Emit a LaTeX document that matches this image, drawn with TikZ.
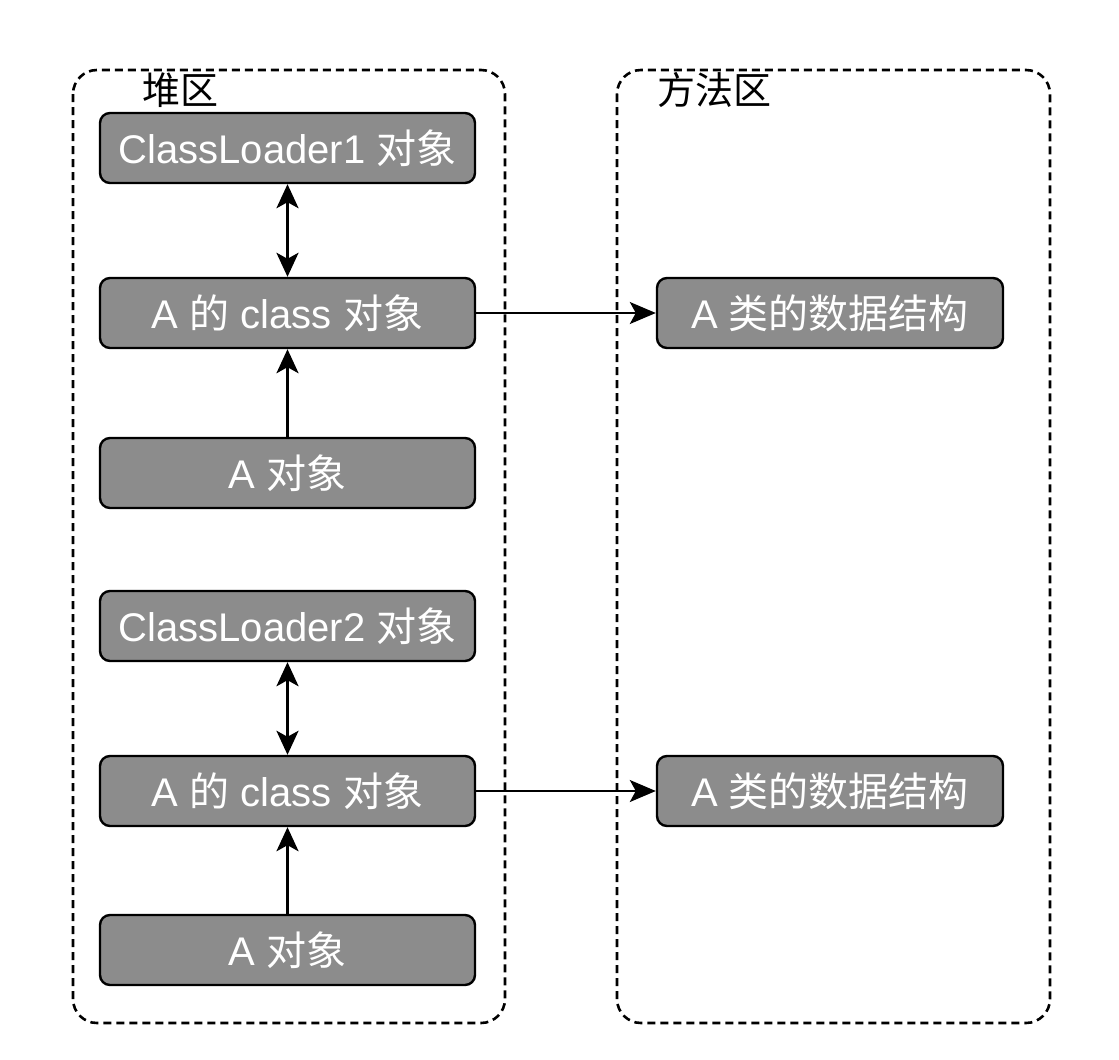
\documentclass[tikz,border=0pt]{standalone}
\usepackage{fontspec}
\setmainfont{Liberation Sans}
\newfontfamily\cjk{Noto Sans CJK SC}
\usetikzlibrary{positioning,arrows.meta}
\newcommand{\zh}[1]{{\cjk #1}}
\tikzset{
  region/.style={draw=black, line width=1.3pt, dash pattern=on 4pt off 2.5pt,
                 rounded corners=12pt},
  obox/.style  ={rectangle, rounded corners=5pt, draw=black, line width=1.2pt,
                 fill=black!45, text=white, minimum width=187.5pt, minimum height=35pt,
                 inner sep=0pt, font=\fontsize{20}{24}\selectfont},
  mbox/.style  ={obox, minimum width=173pt},
  rlabel/.style={font=\cjk\fontsize{19}{22}\selectfont, inner sep=0pt},
  darr/.style  ={{Stealth[length=12pt,width=11pt,inset=3pt]}-{Stealth[length=12pt,width=11pt,inset=3pt]},
                 line width=1.5pt},
  uarr/.style  ={-{Stealth[length=12pt,width=11pt,inset=3pt]}, line width=1.5pt},
  harr/.style  ={-{Stealth[length=13pt,width=11pt,inset=3pt]}, line width=1pt},
}

\begin{document}
\begin{tikzpicture}[x=0.5pt, y=-0.5pt]
  \useasboundingbox (0,0) rectangle (1119,1060);
  % two memory regions
  \draw[region] (73,70) rectangle (505,1023);
  \draw[region] (617,70) rectangle (1050,1023);
  \node[rlabel] (heap)   at (180,90) {堆区};
  \node[rlabel] (method) at (714,90) {方法区};
  % heap objects
  \node[obox] (cl1)  at (287.5,148) {ClassLoader1 \zh{对象}};
  \node[obox] (cls1) at (287.5,313) {A \zh{的} class \zh{对象}};
  \node[obox] (obj1) at (287.5,473) {A \zh{对象}};
  \node[obox] (cl2)  at (287.5,626) {ClassLoader2 \zh{对象}};
  \node[obox] (cls2) at (287.5,791) {A \zh{的} class \zh{对象}};
  \node[obox] (obj2) at (287.5,950) {A \zh{对象}};
  % method area
  \node[mbox] (data1) at (830,313) {A \zh{类的数据结构}};
  \node[mbox] (data2) at (830,791) {A \zh{类的数据结构}};
  % links
  \draw[darr] (cl1) -- (cls1);
  \draw[uarr] (obj1) -- (cls1);
  \draw[darr] (cl2) -- (cls2);
  \draw[uarr] (obj2) -- (cls2);
  \draw[harr] (cls1) -- (data1);
  \draw[harr] (cls2) -- (data2);
\end{tikzpicture}
\end{document}
